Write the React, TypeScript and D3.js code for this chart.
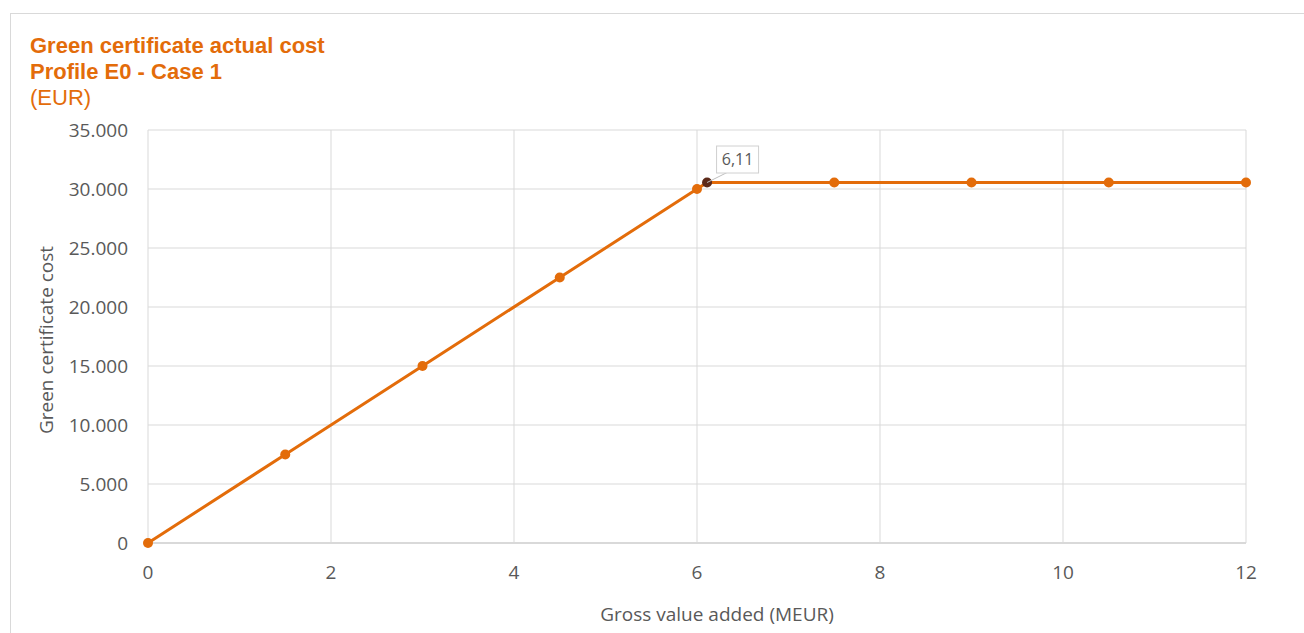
import React from "react";
import * as d3 from "d3";

const xValues = [0, 1.5, 3, 4.5, 6, 6.11, 7.5, 9, 10.5, 12];
const yValues = [0, 7500, 15000, 22500, 30000, 30550, 30550, 30550, 30550, 30550];
const xTicks = [0, 2, 4, 6, 8, 10, 12];
const yTicks = [0, 5000, 10000, 15000, 20000, 25000, 30000, 35000];
const highlightIndex = 5;
const highlightLabel = "6,11";
const titleLines = ["Green certificate actual cost", "Profile E0 - Case 1"];
const unitLine = "(EUR)";
const xTitle = "Gross value added (MEUR)";
const yTitle = "Green certificate cost";

const ORANGE = "#E36C0A";
const GRID = "#d9d9d9";
const TEXT = "#595959";
const tickFont = "'Open Sans', sans-serif";

export default function App() {
  const W = 1304, H = 633;
  const x = d3.scaleLinear().domain([0, 12]).range([148, 1246]);
  const y = d3.scaleLinear().domain([0, 35000]).range([543, 130]);
  const fmt = (v: number) => d3.format(",")(v).replace(/,/g, ".");
  const line = d3.line<number>().x((_, i) => x(xValues[i])).y((d) => y(d));
  const hx = x(xValues[highlightIndex]);
  const hy = y(yValues[highlightIndex]);
  return (
    <svg width={W} height={H} style={{ position: "absolute", left: 0, top: 0 }}>
      <rect x={0} y={0} width={W} height={H} fill="#fff" />
      <rect x={10.5} y={13.5} width={W + 10} height={H + 10} fill="none" stroke={GRID} strokeWidth={1} />
      {titleLines.map((t, i) => (
        <text key={i} x={30} y={53 + i * 26} fill={ORANGE} fontFamily="'Liberation Sans', Arial, sans-serif" fontWeight="bold" fontSize={22}>{t}</text>
      ))}
      <text x={30} y={105} fill={ORANGE} fontFamily="'Liberation Sans', Arial, sans-serif" fontSize={22}>{unitLine}</text>
      {yTicks.map((t) => (
        <g key={t}>
          {t > 0 && <line x1={x(0)} x2={x(12)} y1={y(t)} y2={y(t)} stroke={GRID} strokeWidth={1} />}
          <text x={128} y={y(t)} dy="0.35em" textAnchor="end" fill={TEXT} fontFamily={tickFont} fontSize={19}>{fmt(t)}</text>
        </g>
      ))}
      {xTicks.map((t) => (
        <g key={t}>
          <line x1={x(t)} x2={x(t)} y1={y(0)} y2={y(35000)} stroke={GRID} strokeWidth={1} />
          <text x={x(t)} y={579} textAnchor="middle" fill={TEXT} fontFamily={tickFont} fontSize={19}>{t}</text>
        </g>
      ))}
      <line x1={x(0)} x2={x(12)} y1={y(0)} y2={y(0)} stroke={GRID} strokeWidth={2} />
      <text x={717} y={621} textAnchor="middle" fill={TEXT} fontFamily={tickFont} fontSize={19}>{xTitle}</text>
      <text transform={`translate(53,340) rotate(-90)`} textAnchor="middle" fill={TEXT} fontFamily={tickFont} fontSize={19}>{yTitle}</text>
      <path d={line(yValues) || ""} fill="none" stroke={ORANGE} strokeWidth={3} />
      {yValues.map((v, i) => (
        <circle key={i} cx={x(xValues[i])} cy={y(v)} r={5} fill={i === highlightIndex ? "#5c2a1a" : ORANGE} />
      ))}
      <line x1={hx} y1={hy} x2={hx + 20} y2={hy - 10} stroke="#bfbfbf" strokeWidth={1} />
      <rect x={hx + 9.5} y={hy - 36.5} width={42} height={27} fill="#fff" stroke="#d0d0d0" strokeWidth={1} />
      <text x={hx + 30.5} y={hy - 23} dy="0.35em" textAnchor="middle" fill={TEXT} fontFamily={tickFont} fontSize={16}>{highlightLabel}</text>
    </svg>
  );
}
